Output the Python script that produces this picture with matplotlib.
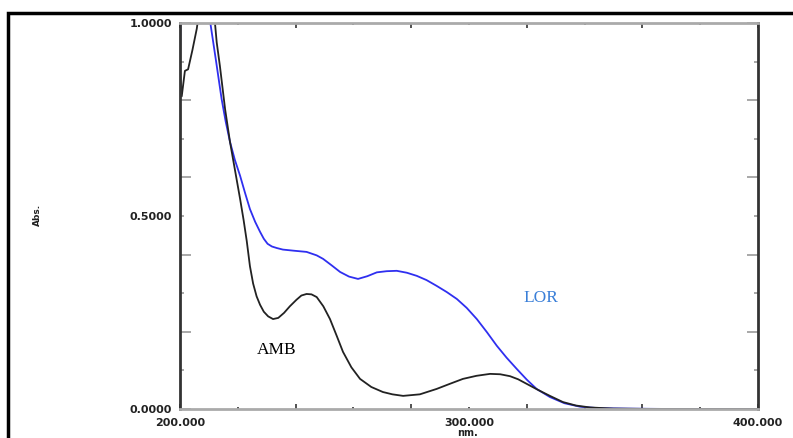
import matplotlib.pyplot as plt
import matplotlib.patches as patches
from matplotlib.ticker import MultipleLocator

# Spektrų duomenys, nuskaityti nuo paveikslėlio (nm, Abs.)
lor_nm = [200.0, 200.2, 209.5, 210.5, 212.5, 214.4, 215.8, 217.3, 219.0, 220.8, 222.5,
          224.2, 226.0, 227.7, 229.0, 230.3, 231.8, 233.5, 235.6, 239.5, 243.8, 247.3,
          249.5, 252.5, 255.4, 258.5, 261.6, 264.8, 268.1, 271.5, 275.0, 278.5, 281.9,
          285.3, 288.8, 292.3, 295.8, 299.2, 302.7, 306.2, 309.6, 313.0, 316.5, 320.0,
          323.4, 328.0, 333.0, 338.4, 345.0, 355.0, 370.0, 400.0]
lor_abs = [0.89, 1.05, 1.05, 1.0, 0.90, 0.803, 0.745, 0.692, 0.645, 0.604, 0.560,
           0.518, 0.485, 0.459, 0.441, 0.428, 0.421, 0.417, 0.413, 0.410, 0.407, 0.398,
           0.389, 0.372, 0.355, 0.343, 0.337, 0.344, 0.354, 0.357, 0.358, 0.353, 0.345,
           0.334, 0.319, 0.303, 0.285, 0.262, 0.233, 0.199, 0.164, 0.133, 0.104, 0.076,
           0.052, 0.031, 0.015, 0.006, 0.002, 0.001, 0.0, 0.0]

amb_nm = [200.0, 200.6, 201.7, 202.8, 204.3, 205.8, 207.0, 211.5, 212.7, 213.8, 215.6,
          217.3, 219.0, 220.8, 222.0, 223.1, 224.2, 225.3, 226.5, 227.7, 229.0, 230.5,
          232.2, 234.0, 236.0, 238.0, 240.3, 242.0, 243.8, 245.5, 247.3, 249.6, 251.9,
          254.2, 256.4, 259.3, 262.3, 266.2, 270.2, 273.5, 277.2, 283.0, 288.8, 293.3,
          297.9, 302.6, 307.3, 310.8, 314.2, 317.0, 320.0, 324.0, 328.0, 332.5, 337.0,
          341.9, 350.0, 365.0, 400.0]
amb_abs = [0.87, 0.81, 0.876, 0.88, 0.93, 0.985, 1.05, 1.05, 0.95, 0.889, 0.777,
           0.692, 0.620, 0.544, 0.490, 0.435, 0.370, 0.325, 0.292, 0.270, 0.252, 0.240,
           0.233, 0.236, 0.249, 0.266, 0.283, 0.294, 0.298, 0.297, 0.290, 0.266, 0.233,
           0.190, 0.148, 0.108, 0.078, 0.057, 0.044, 0.038, 0.034, 0.038, 0.052, 0.065,
           0.078, 0.086, 0.091, 0.090, 0.085, 0.077, 0.065, 0.049, 0.034, 0.018, 0.009,
           0.004, 0.001, 0.0, 0.0]

x_labels = [200, 300, 400]
y_labels = [0.0, 0.5, 1.0]

fig = plt.figure(figsize=(7.93, 4.39), dpi=100)
fig.patch.set_facecolor('white')

# Išorinis rėmelis
fig.patches.append(patches.Rectangle((8 / 793, -0.1), 1.2, (439 - 14) / 439 + 0.1,
                                     transform=fig.transFigure, fill=False,
                                     edgecolor='black', linewidth=2.5))

ax = fig.add_axes([180 / 793, 1 - 410 / 439, (758 - 180) / 793, (410 - 24) / 439])
ax.plot(lor_nm, lor_abs, color='#2f2ff0', linewidth=1.3)
ax.plot(amb_nm, amb_abs, color='#222222', linewidth=1.3)

ax.set_xlim(200, 400)
ax.set_ylim(0, 1)

ax.xaxis.set_major_locator(MultipleLocator(40))
ax.xaxis.set_minor_locator(MultipleLocator(20))
ax.yaxis.set_major_locator(MultipleLocator(0.2))
ax.yaxis.set_minor_locator(MultipleLocator(0.1))
ax.tick_params(which='both', direction='in', top=True, right=True,
               labelbottom=False, labelleft=False, width=1.2)
ax.tick_params(axis='y', which='major', length=8, color='#999999')
ax.tick_params(axis='y', which='minor', length=3, color='#999999')
ax.tick_params(axis='x', which='major', length=3.5, color='#333333')
ax.tick_params(axis='x', which='minor', length=1.5, color='#333333')

ax.spines['left'].set_color('#333333')
ax.spines['right'].set_color('#333333')
ax.spines['top'].set_color('#aaaaaa')
ax.spines['bottom'].set_color('#aaaaaa')
for s in ax.spines.values():
    s.set_linewidth(2)

# Ašių užrašai
for v in y_labels:
    ax.text(-0.014, v, '%.4f' % v, transform=ax.get_yaxis_transform(),
            ha='right', va='center', fontsize=8, fontweight='bold',
            family='DejaVu Sans', color='#222222')
for v in x_labels:
    ax.text(v, -0.034, '%.3f' % v, transform=ax.get_xaxis_transform(),
            ha='center', va='center', fontsize=8, fontweight='bold',
            family='DejaVu Sans', color='#222222')
ax.text(0.497, -0.06, 'nm.', transform=ax.transAxes, ha='center', va='center',
        fontsize=7, fontweight='bold', family='DejaVu Sans', color='#222222')
fig.text(37 / 793, 1 - 215 / 439, 'Abs.', rotation=90, ha='center', va='center',
         fontsize=6.5, fontweight='bold', family='DejaVu Sans', color='#222222')

ax.text(233.6, 0.155, 'AMB', fontsize=12.5, family='Liberation Serif', color='black',
        ha='center', va='center')
ax.text(324.9, 0.29, 'LOR', fontsize=12.5, family='Liberation Serif', color='#3a7fd8',
        ha='center', va='center')

fig.savefig('out.png', dpi=100)
